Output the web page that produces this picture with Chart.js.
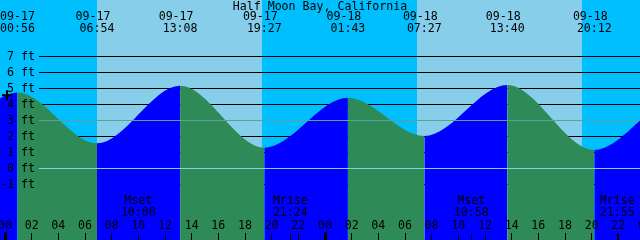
<!DOCTYPE html>
<html>
<head>
<meta charset="utf-8">
<title>Half Moon Bay, California</title>
<script src="https://cdn.jsdelivr.net/npm/chart.js@4"></script>
<style>
  body { margin: 0; background: #00bfff; }
  canvas { display: block; }
</style>
</head>
<body>
<canvas id="tideChart" width="640" height="240"></canvas>
<script>
// hours are counted from 09-17 00:00, heights in feet
// the first two and last two entries are tides outside the picture
const tideHours = [-11.5, -5.3, 0.933, 6.9, 13.133, 19.45, 25.717, 31.45, 37.667, 44.2, 50.4, 57.0];
const tideFeet = [5.0, 1.4, 4.72, 1.54, 5.14, 1.27, 4.39, 2.0, 5.19, 1.13, 4.3, 1.6];
const tideDates = ['', '', '09-17', '09-17', '09-17', '09-17', '09-18', '09-18', '09-18', '09-18', '', ''];
const tideTimes = ['', '', '00:56', '06:54', '13:08', '19:27', '01:43', '07:27', '13:40', '20:12', '', ''];

const sunriseHours = [6.9, 30.9];
const sunsetHours = [19.27, 43.27];

const moonHours = [10.0, 21.4, 34.967, 45.917];
const moonNames = ['Mset', 'Mrise', 'Mset', 'Mrise'];
const moonTimes = ['10:00', '21:24', '10:58', '21:55'];

const footLevels = [7, 6, 5, 4, 3, 2, 1, 0, -1];
const footLabels = ['7 ft', '6 ft', '5 ft', '4 ft', '3 ft', '2 ft', '1 ft', '0 ft', '-1 ft'];

const hourTicks = [0, 2, 4, 6, 8, 10, 12, 14, 16, 18, 20, 22, 24, 26, 28, 30, 32, 34, 36, 38, 40, 42, 44, 46, 48];
const hourLabels = ['00', '02', '04', '06', '08', '10', '12', '14', '16', '18', '20', '22',
                    '00', '02', '04', '06', '08', '10', '12', '14', '16', '18', '20', '22', '00'];

const nowHour = [0.15];
const nowFeet = [4.55];

const FONT = '11.6px "DejaVu Sans Mono"';
const FLOOD = '#0000ff';
const EBB = '#2e8b57';

// background, depth lines and all the text around the tide curve
const tideDecor = {
    id: 'tideDecor',
    beforeDatasetsDraw(chart) {
        const {ctx, chartArea: a, scales: {x, y}} = chart;
        ctx.save();
        ctx.fillStyle = '#00bfff';
        ctx.fillRect(a.left, a.top, a.width, a.height);
        ctx.fillStyle = '#87ceeb';
        sunriseHours.forEach((h, i) => {
            const x0 = Math.round(x.getPixelForValue(h));
            const x1 = Math.round(x.getPixelForValue(sunsetHours[i]));
            ctx.fillRect(x0, a.top, x1 - x0, a.height);
        });
        ctx.fillStyle = '#000';
        footLevels.forEach(f => {
            if (f === 3 || f === 0) return;
            ctx.fillRect(39, Math.round(y.getPixelForValue(f)), a.right - 39, 1);
        });
        ctx.restore();
    },
    afterDatasetsDraw(chart) {
        const {ctx, chartArea: a, scales: {x, y}} = chart;
        ctx.save();

        // mean level and datum lines sit on top of the fill
        ctx.fillStyle = 'rgb(95,160,150)';
        ctx.fillRect(39, Math.round(y.getPixelForValue(3)), a.right - 39, 1);
        ctx.fillStyle = '#87ceeb';
        ctx.fillRect(39, Math.round(y.getPixelForValue(0)), a.right - 39, 1);

        ctx.font = FONT;
        ctx.fillStyle = '#000';
        ctx.textBaseline = 'middle';

        ctx.textAlign = 'right';
        footLevels.forEach((f, i) => {
            ctx.fillText(footLabels[i], 35, Math.round(y.getPixelForValue(f)) + 0.5);
        });

        ctx.textAlign = 'center';
        ctx.fillText('Half Moon Bay, California', 320, 7);

        // high / low tide times along the top
        ctx.textAlign = 'left';
        tideTimes.forEach((t, i) => {
            if (!t) return;
            const px = x.getPixelForValue(tideHours[i]);
            const wt = ctx.measureText(t).width;
            const wd = ctx.measureText(tideDates[i]).width;
            ctx.fillText(tideDates[i], Math.max(0, px - 4 - wd / 2), 17);
            ctx.fillText(t, Math.max(0, px - wt / 2), 29);
        });

        // hour axis
        ctx.textAlign = 'center';
        hourTicks.forEach((h, i) => {
            const px = x.getPixelForValue(h);
            ctx.fillText(hourLabels[i], px, 226);
            if (h % 24 === 0) {
                ctx.fillRect(Math.round(px) - 1, 232, 3, 8);
            } else {
                ctx.fillRect(Math.floor(px), 233, 1, 7);
            }
        });

        // moon rise / set
        moonHours.forEach((h, i) => {
            const px = x.getPixelForValue(h);
            ctx.fillText(moonNames[i], px, 201);
            ctx.fillText(moonTimes[i], px, 213);
            ctx.fillRect(Math.floor(px), 233, 1, 7);
        });

        ctx.restore();
    }
};

const ctx = document.getElementById('tideChart').getContext('2d');

const tideChart = new Chart(ctx, {
    type: 'line',
    data: {
        datasets: [{
            // current time marker
            data: nowHour.map((h, i) => ({x: h, y: nowFeet[i]})),
            showLine: false,
            fill: false,
            pointStyle: 'cross',
            pointRadius: 5,
            pointBorderWidth: 2,
            pointBorderColor: '#000'
        }, {
            data: tideHours.map((h, i) => ({x: h, y: tideFeet[i]})),
            cubicInterpolationMode: 'monotone',
            fill: 'start',
            borderWidth: 0,
            borderColor: 'rgba(0,0,0,0)',
            backgroundColor: EBB,
            pointRadius: 0,
            segment: {
                backgroundColor: c => c.p1.parsed.y > c.p0.parsed.y ? FLOOD : EBB
            }
        }]
    },
    options: {
        responsive: false,
        animation: false,
        events: [],
        layout: { padding: 0, autoPadding: false },
        plugins: {
            legend: { display: false },
            tooltip: { enabled: false }
        },
        scales: {
            x: { type: 'linear', min: -0.375, max: 47.625, display: false },
            y: { type: 'linear', min: -4.5, max: 10.5, display: false }
        }
    },
    plugins: [tideDecor]
});
</script>
</body>
</html>
